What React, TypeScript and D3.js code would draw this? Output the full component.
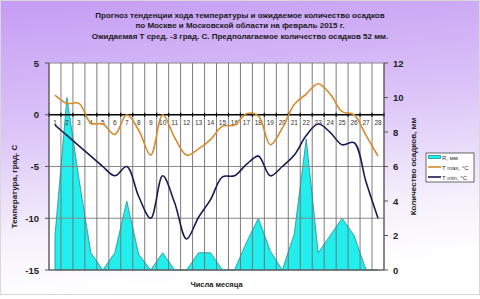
import React from "react";
import * as d3 from "d3";

const days = d3.range(1, 29);
const precip = [2.0, 10.0, 5.3, 1.0, 0, 1.0, 4.0, 0.9, 0, 1.0, 0, 0, 1.0, 1.0, 0, 0, 1.6, 3.0, 1.1, 0, 2.1, 7.6, 1.0, 2.0, 3.0, 2.0, 0, 0];
const tMax = [1.9, 1.1, 1.1, -0.8, -0.9, -1.9, 0.0, -1.5, -3.9, 0.0, -2.2, -3.9, -3.3, -2.4, -1.1, -1.0, 0.1, -0.1, -2.9, -1.3, 1.0, 2.0, 3.0, 2.0, 0.3, 0.0, -2.0, -4.0];
const tMin = [-1.0, -2.0, -3.0, -4.0, -5.0, -5.9, -5.0, -7.9, -10.0, -5.9, -8.5, -12.0, -9.9, -8.2, -6.0, -5.9, -4.8, -4.0, -5.9, -5.0, -3.9, -2.0, -0.9, -1.7, -2.9, -2.7, -6.5, -10.0];
const tempTicks = [-15, -10, -5, 0, 5];
const precipTicks = [0, 2, 4, 6, 8, 10, 12];
const titleLines = [
  "Прогноз тенденции хода температуры и ожидаемое количество осадков",
  "по Москве и Московской области на февраль 2015 г.",
  "Ожидаемая Т сред. -3 град. С. Предполагаемое количество осадков 52 мм.",
];
const legendItems = ["R, мм", "T max, °C", "T min, °C"];

const W = 480, H = 299;
const L = 49, R = 384, T = 63, B = 270;
const font = "Liberation Sans, Arial, sans-serif";

export default function App() {
  const x = d3.scaleBand<number>().domain(days).range([L, R]).padding(0);
  const bw = x.bandwidth();
  const cx = (d: number) => (x(d) as number) + bw / 2;
  const yT = d3.scaleLinear().domain([-15, 5]).range([B, T]);
  const yR = d3.scaleLinear().domain([0, 12]).range([B, T]);

  const area = d3.area<number>().x((_, i) => cx(days[i])).y0(yR(0)).y1((d) => yR(d)).curve(d3.curveLinear);
  const line = d3.line<number>().x((_, i) => cx(days[i])).y((d) => yT(d)).curve(d3.curveCatmullRom.alpha(0.5));

  const gridX = d3.range(0, days.length + 1).map((k) => L + k * bw);
  const lineColors = ["#d88a2c", "#1b1a55"];

  return (
    <svg width={W} height={H} style={{ position: "absolute", left: 0, top: 0 }} fontFamily={font}>
      <defs>
        <linearGradient id="bg" x1="0" y1="0" x2="0.15" y2="1">
          <stop offset="0" stopColor="#c59cf4" />
          <stop offset="0.45" stopColor="#dcc6f8" />
          <stop offset="0.8" stopColor="#f6f1fc" />
          <stop offset="1" stopColor="#ffffff" />
        </linearGradient>
      </defs>
      <rect x={0.5} y={0.5} width={W - 1} height={H - 5} fill="url(#bg)" stroke="#d8d8d8" />
      {titleLines.map((t, i) => (
        <text key={i} x={240} y={18 + i * 10.3} textAnchor="middle" fontSize={8} fontWeight="bold" fill="#1a1a1a">{t}</text>
      ))}
      <rect x={L} y={T} width={R - L} height={B - T} fill="#ffffff" />
      <path d={area(precip) || ""} fill="#22eeee" stroke="#1f8f8f" strokeWidth={0.8} />
      {tempTicks.filter((t) => t !== 0).map((t) => (
        <line key={t} x1={L} x2={R} y1={yT(t)} y2={yT(t)} stroke="#8a8a8a" strokeWidth={1} />
      ))}
      {gridX.map((gx, i) => (
        <line key={i} x1={gx} x2={gx} y1={T} y2={B} stroke="#6e6e6e" strokeWidth={0.9} />
      ))}
      <line x1={L} x2={R} y1={yT(0)} y2={yT(0)} stroke="#000" strokeWidth={1.6} />
      {gridX.map((gx, i) => (
        <line key={"t" + i} x1={gx} x2={gx} y1={yT(0) - 2} y2={yT(0) + 2} stroke="#000" strokeWidth={1.2} />
      ))}
      {days.map((d) => (
        <text key={d} x={cx(d)} y={yT(0) + 10} textAnchor="middle" fontSize={6.5} fill="#333">{d}</text>
      ))}
      <path d={line(tMax) || ""} fill="none" stroke={lineColors[0]} strokeWidth={1.6} />
      <path d={line(tMin) || ""} fill="none" stroke={lineColors[1]} strokeWidth={1.6} />
      <line x1={L} x2={L} y1={T} y2={B} stroke="#555" strokeWidth={1} />
      <line x1={R} x2={R} y1={T} y2={B} stroke="#555" strokeWidth={1} />
      <line x1={L} x2={R} y1={B} y2={B} stroke="#555" strokeWidth={1} />
      {tempTicks.map((t) => (
        <g key={t}>
          <line x1={L - 4} x2={L} y1={yT(t)} y2={yT(t)} stroke="#555" />
          <text x={39} y={yT(t) + 3.5} textAnchor="end" fontSize={9.5} fontWeight="bold" fill="#222">{t}</text>
        </g>
      ))}
      {precipTicks.map((t) => (
        <g key={t}>
          <line x1={R} x2={R + 4} y1={yR(t)} y2={yR(t)} stroke="#555" />
          <text x={393} y={yR(t) + 3.5} textAnchor="start" fontSize={9.5} fontWeight="bold" fill="#222">{t}</text>
        </g>
      ))}
      <text transform={`translate(17,${(T + B) / 2 + 20}) rotate(-90)`} textAnchor="middle" fontSize={8} fontWeight="bold" fill="#222">Температура, град. С</text>
      <text transform={`translate(416,${(T + B) / 2}) rotate(-90)`} textAnchor="middle" fontSize={8} fontWeight="bold" fill="#222">Количество осадков, мм</text>
      <text x={(L + R) / 2} y={287} textAnchor="middle" fontSize={7.5} fontWeight="bold" fill="#222">Числа месяца</text>
      <g>
        <rect x={426} y={153} width={48} height={29} fill="#ffffff" stroke="#444" strokeWidth={0.8} />
        <rect x={428.5} y={155.5} width={12} height={3} fill="#22eeee" stroke="#1f8f8f" strokeWidth={0.8} />
        <line x1={428} x2={441} y1={167} y2={167} stroke={lineColors[0]} strokeWidth={1.6} />
        <line x1={428} x2={441} y1={177} y2={177} stroke={lineColors[1]} strokeWidth={1.6} />
        {legendItems.map((t, i) => (
          <text key={t} x={442} y={159.5 + i * 10} fontSize={6} fill="#333">{t}</text>
        ))}
      </g>
    </svg>
  );
}
